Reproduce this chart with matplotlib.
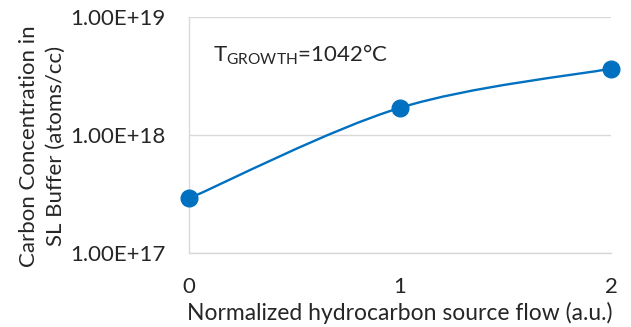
import numpy as np
import matplotlib
matplotlib.use("Agg")
import matplotlib.pyplot as plt
from matplotlib.path import Path
from matplotlib.patches import PathPatch

# source flow (normalized) vs carbon in SL buffer
flow = [0, 1, 2]
carbon = [2.9e17, 1.7e18, 3.65e18]
xticks = [0, 1, 2]
yticks = [1e17, 1e18, 1e19]
ylabels = ["1.00E+17", "1.00E+18", "1.00E+19"]

BLUE = "#0070C0"
GRID = "#D9D9D9"
TXT = "#262626"
FS = 16
plt.rcParams["font.family"] = ["Lato", "DejaVu Sans"]

fig = plt.figure(figsize=(6.31, 3.27), dpi=100)
ax = fig.add_axes([0.2995, 0.2263, 0.6688, 0.7217])
ax.set_yscale("log")
ax.set_xlim(0, 2)
ax.set_ylim(1e17, 1e19)

# smoothed line: cubic bezier segments (catmull-rom style) in x / log10(y) space
lx = np.array(flow, float)
ly = np.log10(carbon)
n = len(lx)
verts = [(lx[0], ly[0])]
codes = [Path.MOVETO]
for i in range(n - 1):
    p0 = i - 1 if i > 0 else i
    p3 = i + 2 if i + 2 < n else i + 1
    c1 = (lx[i] + (lx[i + 1] - lx[p0]) / 6, ly[i] + (ly[i + 1] - ly[p0]) / 6)
    c2 = (lx[i + 1] - (lx[p3] - lx[i]) / 6, ly[i + 1] - (ly[p3] - ly[i]) / 6)
    verts += [c1, c2, (lx[i + 1], ly[i + 1])]
    codes += [Path.CURVE4] * 3
verts = [(x, 10 ** y) for x, y in verts]
ax.add_patch(PathPatch(Path(verts, codes), fill=False, edgecolor=BLUE, lw=1.7,
                       zorder=3, clip_on=False))
ax.plot(flow, carbon, "o", color=BLUE, ms=12, zorder=4, clip_on=False)

ax.set_xticks(xticks)
ax.set_xticklabels([str(t) for t in xticks])
ax.set_yticks(yticks)
ax.set_yticklabels(ylabels)
ax.yaxis.set_minor_locator(matplotlib.ticker.NullLocator())
ax.tick_params(length=0, labelsize=FS, colors=TXT)
ax.tick_params(axis="x", pad=17)
ax.tick_params(axis="y", pad=17)
ax.grid(axis="y", color=GRID, lw=1)
for s in ["top", "right"]:
    ax.spines[s].set_visible(False)
for s in ["left", "bottom"]:
    ax.spines[s].set_color(GRID)
    ax.spines[s].set_linewidth(1)

ax.set_xlabel("Normalized hydrocarbon source flow (a.u.)", fontsize=16.5, color=TXT, labelpad=4)
ax.set_ylabel("Carbon Concentration in\nSL Buffer (atoms/cc)", fontsize=FS, color=TXT,
              linespacing=1.4)
ax.yaxis.set_label_coords(-0.292, 0.453)
ax.text(0.057, 0.81, r"T$_{\mathregular{GROWTH}}$=1042°C", transform=ax.transAxes,
        fontsize=FS, color=TXT, va="baseline")

fig.savefig("out.png", dpi=100)
